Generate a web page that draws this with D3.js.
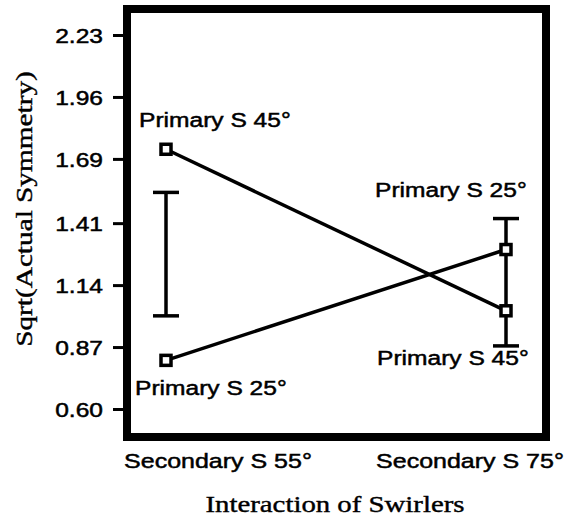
<!DOCTYPE html>
<html>
<head>
<meta charset="utf-8">
<script src="https://cdn.jsdelivr.net/npm/d3@7"></script>
<style>
  html, body { margin: 0; padding: 0; background: #fff; }
  svg { display: block; }
  .sans { font-family: "Liberation Sans", Arial, Helvetica, sans-serif; font-size: 21px; stroke: #000; stroke-width: 0.5px; }
  .serif { font-family: "Liberation Serif", "Times New Roman", Times, serif; font-size: 24px; stroke: #000; stroke-width: 0.4px; }
</style>
</head>
<body>
<div id="chart"></div>
<script>
// Swirler interaction: secondary swirler angle on x, one line per primary swirler angle
const categories = ["Secondary S 55°", "Secondary S 75°"];
const primary45 = [1.732, 1.028];
const primary25 = [0.812, 1.295];
const errLow = [1.006, 0.875];
const errHigh = [1.544, 1.430];
const yTickLabels = ["0.60", "0.87", "1.14", "1.41", "1.69", "1.96", "2.23"];

const width = 568, height = 523;
const frame = { left: 127, right: 546, top: 9, bottom: 437 };
const sansWiden = 1.17;   // wide Helvetica-style lettering

const svg = d3.select("#chart").append("svg")
  .attr("width", width).attr("height", height);

const y = d3.scaleLinear().domain([0.60, 2.23]).range([409, 35]);
const x = d3.scalePoint().domain(categories).range([166, 506]);
const xLabel = d3.scalePoint().domain(categories).range([218, 470]);

// text placed at (px, py) and stretched horizontally
function wideText(parent, px, py, sx, cls, anchor, str) {
  return parent.append("g")
    .attr("transform", `translate(${px},${py}) scale(${sx},1)`)
    .append("text").attr("class", cls)
    .attr("text-anchor", anchor)
    .text(str);
}

// y axis ticks on the outside of the frame
const yAxis = d3.axisLeft(y)
  .tickValues(yTickLabels.map(Number))
  .tickFormat((d, i) => yTickLabels[i])
  .tickSize(12).tickPadding(9);
const gy = svg.append("g").attr("transform", "translate(125,0)").call(yAxis);
gy.select(".domain").remove();
gy.selectAll(".tick line").attr("stroke", "#000").attr("stroke-width", 3);
gy.selectAll(".tick text")
  .attr("class", "sans")
  .attr("fill", "#000")
  .attr("x", -22 / sansWiden)
  .attr("transform", `scale(${sansWiden},1)`)
  .attr("dy", "0.36em");

// category labels beneath the frame
categories.forEach(c => wideText(svg, xLabel(c), 468, 1.19, "sans", "middle", c));

// axis titles
wideText(svg, 335, 512, 1.2, "serif", "middle", "Interaction of Swirlers");
svg.append("g").attr("transform", "translate(32,209) rotate(-90) scale(1.22,1)")
  .append("text").attr("class", "serif")
  .attr("text-anchor", "middle")
  .text("Sqrt(Actual Symmetry)");

// error bars
const errG = svg.append("g").attr("stroke", "#000").attr("stroke-width", 3.5).attr("fill", "none");
categories.forEach((c, i) => {
  const cx = x(c);
  errG.append("line").attr("x1", cx).attr("x2", cx).attr("y1", y(errLow[i])).attr("y2", y(errHigh[i]));
  [errLow[i], errHigh[i]].forEach(v => {
    errG.append("line").attr("x1", cx - 13).attr("x2", cx + 13).attr("y1", y(v)).attr("y2", y(v));
  });
});

// series lines and square markers
const line = d3.line().x((d, i) => x(categories[i])).y(d => y(d));
[primary45, primary25].forEach(series => {
  svg.append("path").datum(series)
    .attr("d", line).attr("fill", "none")
    .attr("stroke", "#000").attr("stroke-width", 3.5);
});
[primary45, primary25].forEach(series => {
  svg.append("g").selectAll("rect").data(series).join("rect")
    .attr("x", (d, i) => x(categories[i]) - 5)
    .attr("y", d => y(d) - 5)
    .attr("width", 10).attr("height", 10)
    .attr("fill", "#fff").attr("stroke", "#000").attr("stroke-width", 3.5);
});

// series labels
const pointLabels = [
  { text: "Primary S 45°", x: 139, y: 127 },
  { text: "Primary S 25°", x: 135, y: 395 },
  { text: "Primary S 25°", x: 375, y: 197 },
  { text: "Primary S 45°", x: 377, y: 365 }
];
pointLabels.forEach(d => wideText(svg, d.x, d.y, sansWiden, "sans", "start", d.text));

// heavy plot frame
svg.append("rect")
  .attr("x", frame.left).attr("y", frame.top)
  .attr("width", frame.right - frame.left).attr("height", frame.bottom - frame.top)
  .attr("fill", "none").attr("stroke", "#000").attr("stroke-width", 8);
</script>
</body>
</html>
